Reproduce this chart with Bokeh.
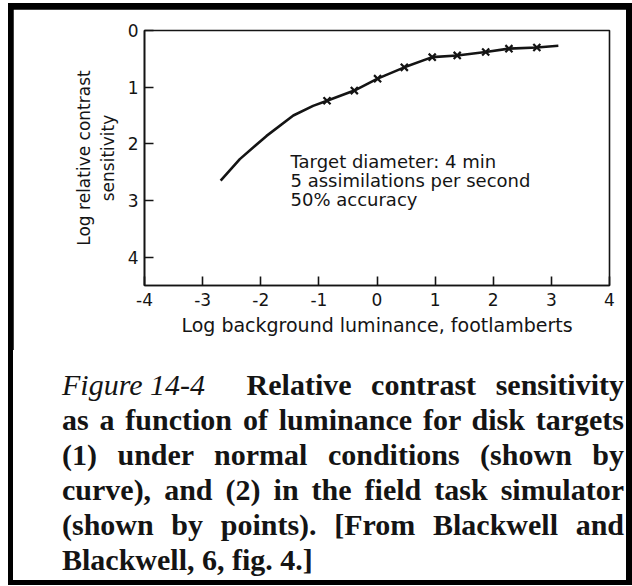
from bokeh.plotting import figure
from bokeh.models import Range1d, FixedTicker, Label, Div
from bokeh.layouts import column
from bokeh.embed import file_html
from bokeh.resources import INLINE

# ---------------- data ----------------
curve_x = [-2.69, -2.36, -1.90, -1.44, -1.10]
curve_y = [2.65, 2.27, 1.86, 1.50, 1.33]
points_x = [-0.86, -0.39, 0.01, 0.47, 0.95, 1.38, 1.87, 2.27, 2.75]
points_y = [1.24, 1.06, 0.85, 0.65, 0.47, 0.44, 0.38, 0.32, 0.30]
tail_x = [3.12]
tail_y = [0.27]
x_ticks = [-4, -3, -2, -1, 0, 1, 2, 3, 4]
x_tick_labels = ["-4", "-3", "-2", "-1", "0", "1", "2", "3", "4"]
y_ticks = [0, 1, 2, 3, 4]
y_tick_labels = ["0", "1", "2", "3", "4"]

x_title = "Log background luminance, footlamberts"
y_title = "Log relative contrast\nsensitivity"
note_lines = ["Target diameter: 4 min", "5 assimilations per second", "50% accuracy"]
caption_head = "Figure 14-4"
caption_lines = [
    "Relative contrast sensitivity",
    "as a function of luminance for disk targets",
    "(1) under normal conditions (shown by",
    "curve), and (2) in the field task simulator",
    "(shown by points). [From Blackwell and",
    "Blackwell, 6, fig. 4.]",
]

INK = "#141414"
SANS = "DejaVu Sans"
SERIF = "Liberation Serif"

# ---------------- layout (page pixels) ----------------
CX, CY = 13, 9                 # top-left of the chart canvas on the page
W, H1, H2 = 613, 341, 230      # canvas width, chart height, caption height
FL, FT, FW, FH = 144, 30, 465, 255   # plot frame on the page
X0, X1, Y0, Y1 = -4.0, 4.0, 0.0, 4.5

def dx(px):
    return X0 + (px - FL) * (X1 - X0) / FW

def dy(py):
    return Y0 + (py - FT) * (Y1 - Y0) / FH

p = figure(width=W, height=H1, x_range=Range1d(X0, X1), y_range=Range1d(Y1, Y0),
           output_backend="svg", toolbar_location=None,
           min_border_left=FL - CX, min_border_top=FT - CY,
           min_border_right=W - (FL - CX) - FW,
           min_border_bottom=H1 - (FT - CY) - FH)
p.grid.visible = False
p.background_fill_color = "white"
p.border_fill_color = "white"
p.outline_line_color = INK
p.outline_line_width = 1.6

for ax, ticks, labels in ((p.xaxis[0], x_ticks, x_tick_labels), (p.yaxis[0], y_ticks, y_tick_labels)):
    ax.ticker = FixedTicker(ticks=ticks)
    ax.major_label_overrides = {t: l for t, l in zip(ticks, labels)}
    ax.minor_tick_line_color = None
    ax.major_tick_in = 9
    ax.major_tick_out = 0
    ax.major_tick_line_width = 1.6
    ax.major_tick_line_color = INK
    ax.axis_line_width = 1.6
    ax.axis_line_color = INK
    ax.major_label_text_font = SANS
    ax.major_label_text_font_size = "17px"
    ax.major_label_text_color = INK
    ax.axis_label_text_font = SANS
    ax.axis_label_text_font_style = "normal"
    ax.axis_label_text_color = INK
p.xaxis.major_label_standoff = 7
p.yaxis.major_label_standoff = 6
p.yaxis.major_label_orientation = "horizontal"
p.xaxis.axis_label = x_title
p.xaxis.axis_label_text_font_size = "19px"
p.xaxis.axis_label_standoff = 5
p.yaxis.axis_label = y_title
p.yaxis.axis_label_text_font_size = "17px"
p.yaxis.axis_label_standoff = 7

# curve (normal conditions) running through the simulator points
p.line(curve_x + points_x + tail_x, curve_y + points_y + tail_y, line_width=2.6, line_color=INK)
p.scatter(points_x, points_y, marker="x", size=10, line_width=2.2, line_color=INK)

for i, t in enumerate(note_lines):
    p.add_layout(Label(x=dx(290), y=dy(161 + 19 * i), text=t, text_font=SANS,
                       text_font_size="18px", text_align="left",
                       text_baseline="alphabetic", text_color=INK))

# ---------------- justified caption ----------------
JUST = "text-align:justify;text-align-last:justify;white-space:nowrap;"
rows = []
rows.append(f'<div style="{JUST}"><span style="display:inline-block;font-style:italic;'
            f'font-weight:normal;margin-right:22px;">{caption_head}</span> {caption_lines[0]}</div>')
for line in caption_lines[1:-1]:
    rows.append(f'<div style="{JUST}">{line}</div>')
rows.append(f'<div style="text-align:left;white-space:nowrap;">{caption_lines[-1]}</div>')
html = ('<div style="margin:0 0 0 49px;width:562px;padding-top:17px;'
        f"font-family:'{SERIF}',serif;font-weight:bold;font-size:30px;line-height:35px;"
        f'color:{INK};">' + "".join(rows) + "</div>")
cap = Div(text=html, width=W, height=H2, margin=0,
          styles={"background-color": "white", "overflow": "hidden"})

layout = column(p, cap, spacing=0,
                styles={"background-color": "black", "padding": "6px 6px 5px 5px",
                        "margin": "3px 0px 0px 8px"})
open("out.html", "w").write(file_html(layout, INLINE))
